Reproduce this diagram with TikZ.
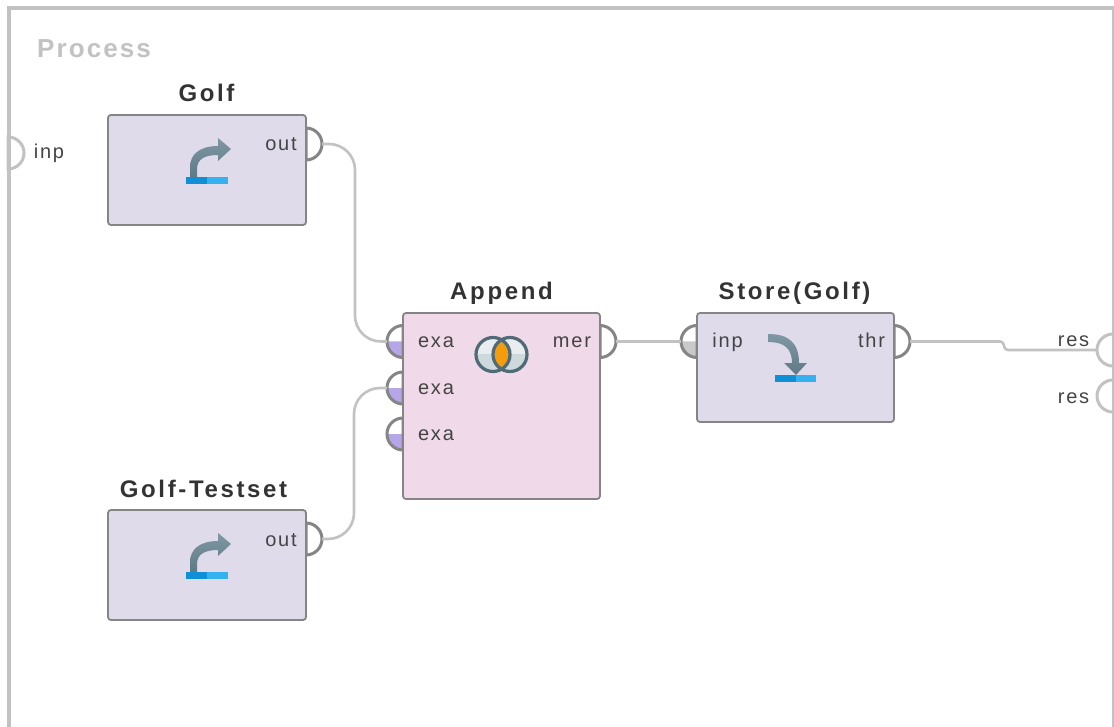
\documentclass[tikz,border=0pt]{standalone}
\usepackage{fontspec}
\setmainfont{Liberation Sans}
\usetikzlibrary{calc}
\definecolor{framegray}{HTML}{C2C2C2}
\definecolor{boxgray}{HTML}{858585}
\definecolor{opblue}{HTML}{DFDBEB}
\definecolor{oppink}{HTML}{F0D9E8}
\definecolor{txt}{HTML}{444444}
\definecolor{titletxt}{HTML}{333333}
\definecolor{purplefill}{HTML}{B6A6E8}
\definecolor{grayfill}{HTML}{C9C9C9}
\definecolor{bardark}{HTML}{0F8FD6}
\definecolor{barlight}{HTML}{36B1EF}
\definecolor{iconA}{HTML}{7F98A3}
\definecolor{iconB}{HTML}{5E7A86}
\definecolor{ringcol}{HTML}{4F6B78}
\definecolor{orangefill}{HTML}{F59C0C}
\definecolor{ringup}{HTML}{E9EDEF}
\definecolor{ringlow}{HTML}{CDD9DA}
\tikzset{
  opbox/.style={draw=boxgray,line width=1.8pt,rounded corners=3pt,anchor=north west,inner sep=0pt,outer sep=0pt},
  optitle/.style={font=\fontsize{24}{24}\selectfont\addfontfeatures{LetterSpace=11}\bfseries,text=titletxt,inner sep=0pt,anchor=base},
  portlabel/.style={font=\fontsize{20}{20}\selectfont\addfontfeatures{LetterSpace=9},text=txt,inner sep=0pt,anchor=base},
  wire/.style={draw=framegray,line width=2.6pt,rounded corners=26pt},
  portline/.style={draw=boxgray,line width=3pt},
  frameport/.style={draw=framegray,line width=3pt},
}
\newcommand{\portright}[4]{%
  \draw[#4] (#2,#3+16) arc[start angle=-90,end angle=90,radius=16pt] -- cycle;
  \coordinate (#1) at (#2+16,#3);}
\newcommand{\portleft}[5]{%
  \fill[#5] (#2,#3) -- (#2-16,#3) arc[start angle=180,end angle=270,radius=16pt] -- cycle;
  \draw[#4] (#2,#3-16) arc[start angle=90,end angle=270,radius=16pt] -- cycle;
  \coordinate (#1) at (#2-16,#3);}
\newcommand{\retrieveicon}[2]{%
  \begin{scope}[shift={(#1,#2)}]
    \shade[top color=iconA,bottom color=iconB]
      (-17,32) -- (-17,22) .. controls (-17,10) and (-8,1) .. (11,1)
      -- (11,-7) -- (24,4) -- (11,16) -- (11,10)
      .. controls (-2,10) and (-10,14) .. (-10,24) -- (-10,32) -- cycle;
    \fill[bardark] (-21,32) rectangle (0,39);
    \fill[barlight] (0,32) rectangle (21,39);
  \end{scope}}
\begin{document}
\begin{tikzpicture}[x=1pt,y=-1pt]
\useasboundingbox (0,0) rectangle (1114,727);
\fill[white] (0,0) rectangle (1114,727);
\draw[framegray,line width=4pt] (8.5,735) -- (8.5,8.5) -- (1113.5,8.5) -- (1113.5,735);
\node[font=\fontsize{26}{26}\selectfont\addfontfeatures{LetterSpace=8}\bfseries,text=framegray,inner sep=0pt,anchor=base west] (proc) at (37,58) {Process};

% ports
\portleft{appA}{403}{341.5}{portline}{purplefill}
\portleft{appB}{403}{388}{portline}{purplefill}
\portleft{appC}{403}{434}{portline}{purplefill}
\portleft{stin}{697}{341.5}{portline}{grayfill}
\portright{golfout}{306}{144}{portline}
\portright{testout}{306}{539}{portline}
\portright{appout}{600}{341.5}{portline}
\portright{stout}{894}{341.5}{portline}
\portright{procin}{8}{153}{frameport}
\draw[frameport] (1113,366) arc[start angle=270,end angle=90,radius=16pt];
\coordinate (resA) at (1097,350);
\draw[frameport] (1113,412) arc[start angle=270,end angle=90,radius=16pt];
\coordinate (resB) at (1097,396);

% operators
\node[opbox,fill=opblue,minimum width=198pt,minimum height=110pt] (golf) at (108,115) {};
\node[opbox,fill=opblue,minimum width=198pt,minimum height=110pt] (test) at (108,510) {};
\node[opbox,fill=oppink,minimum width=197pt,minimum height=186pt] (append) at (403,313) {};
\node[opbox,fill=opblue,minimum width=197pt,minimum height=109pt] (store) at (697,313) {};

% titles
\node[optitle] (tgolf) at (206.5,102) {Golf};
\node[optitle] (ttest) at (203.5,497) {Golf-Testset};
\node[optitle] (tapp) at (501.5,300) {Append};
\node[optitle] (tsto) at (794.5,300) {Store(Golf)};

% port labels
\node[portlabel] (l1) at (281,151) {out};
\node[portlabel] (l2) at (281,546) {out};
\node[portlabel] (l3) at (436,348) {exa};
\node[portlabel] (l4) at (436,394) {exa};
\node[portlabel] (l5) at (436,440) {exa};
\node[portlabel] (l6) at (572,348) {mer};
\node[portlabel] (l7) at (727.5,348) {inp};
\node[portlabel] (l8) at (871.5,348) {thr};
\node[portlabel] (l9) at (49,159) {inp};
\node[portlabel] (l10) at (1073.5,346) {res};
\node[portlabel] (l11) at (1073.5,403) {res};

% connectors
\coordinate (g1) at (355,144);
\coordinate (g2) at (355,341.5);
\coordinate (t1) at (354,539);
\coordinate (t2) at (354,388);
\coordinate (r1) at (1003,341.5);
\coordinate (r2) at (1005,350);
\draw[wire] (golfout) -- (g1) -- (g2) -- (appA);
\draw[wire] (testout) -- (t1) -- (t2) -- (appB);
\draw[wire,rounded corners=0pt] (appout) -- (stin);
\draw[wire,rounded corners=3pt] (stout) -- (r1) -- (r2) -- (resA);

% icons
\retrieveicon{207}{145}
\retrieveicon{207}{540}

% store icon
\begin{scope}[shift={(795.5,375)}]
  \shade[top color=iconA,bottom color=iconB]
    (-27,-41) .. controls (-8,-41) and (3.5,-33) .. (3.5,-12)
    -- (11.5,-12) -- (0.5,0) -- (-11.5,-12) -- (-3.5,-12)
    .. controls (-3.5,-27) and (-12,-33) .. (-27,-33) -- cycle;
\end{scope}
\fill[bardark] (775,375) rectangle (795.5,382);
\fill[barlight] (795.5,375) rectangle (816,382);

% append icon
\begin{scope}
  \clip (470,337) rectangle (532,354.5);
  \fill[ringup] (493,354.5) circle[radius=17pt];
  \fill[ringup] (510,354.5) circle[radius=17pt];
\end{scope}
\begin{scope}
  \clip (470,354.5) rectangle (532,373);
  \fill[ringlow] (493,354.5) circle[radius=17pt];
  \fill[ringlow] (510,354.5) circle[radius=17pt];
\end{scope}
\begin{scope}
  \clip (493,354.5) circle[radius=17pt];
  \fill[orangefill] (510,354.5) circle[radius=17pt];
\end{scope}
\draw[ringcol,line width=3.2pt] (493,354.5) circle[radius=17pt];
\draw[ringcol,line width=3.2pt] (510,354.5) circle[radius=17pt];
\end{tikzpicture}
\end{document}
